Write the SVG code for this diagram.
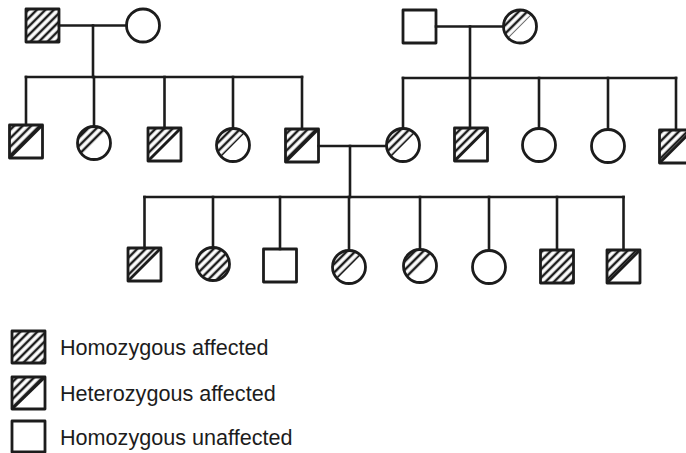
<svg xmlns="http://www.w3.org/2000/svg" width="686" height="453" viewBox="0 0 686 453">
  <style>
    .ln { stroke: #1c1c1c; stroke-width: 2.6; fill: none; stroke-linecap: square; }
    .sh { stroke: #1c1c1c; stroke-width: 2.8; fill: none; stroke-linejoin: round; }
    .ht { fill: url(#hatch); stroke: none; }
    .lbl { font-family: "Liberation Sans", Arial, sans-serif; font-size: 21.6px; fill: #1c1c1c; }
  </style>
  <defs>
    <pattern id="hatch" patternUnits="userSpaceOnUse" width="6" height="6" patternTransform="rotate(45)">
      <line x1="3" y1="-1" x2="3" y2="7" stroke="#1c1c1c" stroke-width="2.5"/>
    </pattern>
  </defs>
  <rect width="686" height="453" fill="#ffffff"/>

  <!-- connectors: marriage, descent and sibship lines -->
  <g id="connectors" class="ln">
    <!-- left grandparents -->
    <line x1="59" y1="25.5" x2="126.5" y2="25.5"/>
    <line x1="93" y1="25.5" x2="93" y2="77"/>
    <line x1="26" y1="77" x2="302" y2="77"/>
    <line x1="26" y1="77" x2="26" y2="125"/>
    <line x1="94" y1="77" x2="94" y2="126.5"/>
    <line x1="164.5" y1="77" x2="164.5" y2="128"/>
    <line x1="233" y1="77" x2="233" y2="128.5"/>
    <line x1="302" y1="77" x2="302" y2="129"/>
    <!-- right grandparents -->
    <line x1="436" y1="26.5" x2="503.5" y2="26.5"/>
    <line x1="470" y1="26.5" x2="470" y2="78"/>
    <line x1="403" y1="78" x2="676" y2="78"/>
    <line x1="403" y1="78" x2="403" y2="128.5"/>
    <line x1="470" y1="78" x2="470" y2="128"/>
    <line x1="539" y1="78" x2="539" y2="128.5"/>
    <line x1="608" y1="78" x2="608" y2="129.5"/>
    <line x1="676" y1="78" x2="676" y2="130"/>
    <!-- parents of the third generation -->
    <line x1="318.5" y1="146" x2="386.5" y2="146"/>
    <line x1="350" y1="146" x2="350" y2="197"/>
    <line x1="144.5" y1="197" x2="623.5" y2="197"/>
    <line x1="144.5" y1="197" x2="144.5" y2="248"/>
    <line x1="213" y1="197" x2="213" y2="247.5"/>
    <line x1="280" y1="197" x2="280" y2="249"/>
    <line x1="349" y1="197" x2="349" y2="250.5"/>
    <line x1="420" y1="197" x2="420" y2="249.5"/>
    <line x1="489" y1="197" x2="489" y2="250.5"/>
    <line x1="557" y1="197" x2="557" y2="250"/>
    <line x1="623.5" y1="197" x2="623.5" y2="250"/>
  </g>

  <!-- generation I -->
  <g id="g1-father-left">
    <rect class="ht" x="26" y="9" width="33" height="33"/>
    <rect class="sh" x="26" y="9" width="33" height="33"/>
  </g>
  <g id="g1-mother-left">
    <circle class="sh" cx="143" cy="25.5" r="16.5"/>
  </g>
  <g id="g1-father-right">
    <rect class="sh" x="403" y="10" width="33" height="33"/>
  </g>
  <g id="g1-mother-right">
    <path class="ht" d="M508.3,38.2 A16.5,16.5 0 0 1 531.7,14.8 Z"/>
    <circle class="sh" cx="520" cy="26.5" r="16.5"/>
  </g>

  <!-- generation II -->
  <g id="g2-1">
    <path class="ht" d="M9.5,125 h33 L9.5,158 Z"/>
    <rect class="sh" x="9.5" y="125" width="33" height="33"/>
    <line class="sh" x1="9.5" y1="158" x2="42.5" y2="125"/>
  </g>
  <g id="g2-2">
    <path class="ht" d="M82.3,154.7 A16.5,16.5 0 0 1 105.7,131.3 Z"/>
    <circle class="sh" cx="94" cy="143" r="16.5"/>
  </g>
  <g id="g2-3">
    <path class="ht" d="M148,128 h33 L148,161 Z"/>
    <rect class="sh" x="148" y="128" width="33" height="33"/>
    <line class="sh" x1="148" y1="161" x2="181" y2="128"/>
  </g>
  <g id="g2-4">
    <path class="ht" d="M221.3,156.7 A16.5,16.5 0 0 1 244.7,133.3 Z"/>
    <circle class="sh" cx="233" cy="145" r="16.5"/>
  </g>
  <g id="g2-5">
    <path class="ht" d="M285.5,129 h33 L285.5,162 Z"/>
    <rect class="sh" x="285.5" y="129" width="33" height="33"/>
    <line class="sh" x1="285.5" y1="162" x2="318.5" y2="129"/>
  </g>
  <g id="g2-6">
    <path class="ht" d="M391.3,156.7 A16.5,16.5 0 0 1 414.7,133.3 Z"/>
    <circle class="sh" cx="403" cy="145" r="16.5"/>
  </g>
  <g id="g2-7">
    <path class="ht" d="M454.5,128 h33 L454.5,161 Z"/>
    <rect class="sh" x="454.5" y="128" width="33" height="33"/>
    <line class="sh" x1="454.5" y1="161" x2="487.5" y2="128"/>
  </g>
  <g id="g2-8">
    <circle class="sh" cx="539" cy="145" r="16.5"/>
  </g>
  <g id="g2-9">
    <circle class="sh" cx="608" cy="146" r="16.5"/>
  </g>
  <g id="g2-10">
    <path class="ht" d="M659.5,130 h33 L659.5,163 Z"/>
    <rect class="sh" x="659.5" y="130" width="33" height="33"/>
    <line class="sh" x1="659.5" y1="163" x2="692.5" y2="130"/>
  </g>

  <!-- generation III -->
  <g id="g3-1">
    <path class="ht" d="M128,248 h33 L128,281 Z"/>
    <rect class="sh" x="128" y="248" width="33" height="33"/>
    <line class="sh" x1="128" y1="281" x2="161" y2="248"/>
  </g>
  <g id="g3-2">
    <circle class="ht" cx="213" cy="264" r="16.5"/>
    <circle class="sh" cx="213" cy="264" r="16.5"/>
  </g>
  <g id="g3-3">
    <rect class="sh" x="263.5" y="249" width="33" height="33"/>
  </g>
  <g id="g3-4">
    <path class="ht" d="M337.3,278.7 A16.5,16.5 0 0 1 360.7,255.3 Z"/>
    <circle class="sh" cx="349" cy="267" r="16.5"/>
  </g>
  <g id="g3-5">
    <path class="ht" d="M408.3,277.7 A16.5,16.5 0 0 1 431.7,254.3 Z"/>
    <circle class="sh" cx="420" cy="266" r="16.5"/>
  </g>
  <g id="g3-6">
    <circle class="sh" cx="489" cy="267" r="16.5"/>
  </g>
  <g id="g3-7">
    <rect class="ht" x="540.5" y="250" width="33" height="33"/>
    <rect class="sh" x="540.5" y="250" width="33" height="33"/>
  </g>
  <g id="g3-8">
    <path class="ht" d="M607,250 h33 L607,283 Z"/>
    <rect class="sh" x="607" y="250" width="33" height="33"/>
    <line class="sh" x1="607" y1="283" x2="640" y2="250"/>
  </g>

  <!-- key -->
  <g id="key-homozygous-affected">
    <rect class="ht" x="12" y="331" width="33" height="32"/>
    <rect class="sh" x="12" y="331" width="33" height="32"/>
    <text class="lbl" x="60" y="355">Homozygous affected</text>
  </g>
  <g id="key-heterozygous-affected">
    <path class="ht" d="M12,377 h33 L12,409 Z"/>
    <rect class="sh" x="12" y="377" width="33" height="32"/>
    <line class="sh" x1="12" y1="409" x2="45" y2="377"/>
    <text class="lbl" x="60" y="401">Heterozygous affected</text>
  </g>
  <g id="key-homozygous-unaffected">
    <rect class="sh" x="12" y="421" width="33" height="31"/>
    <text class="lbl" x="60" y="445">Homozygous unaffected</text>
  </g>
</svg>
